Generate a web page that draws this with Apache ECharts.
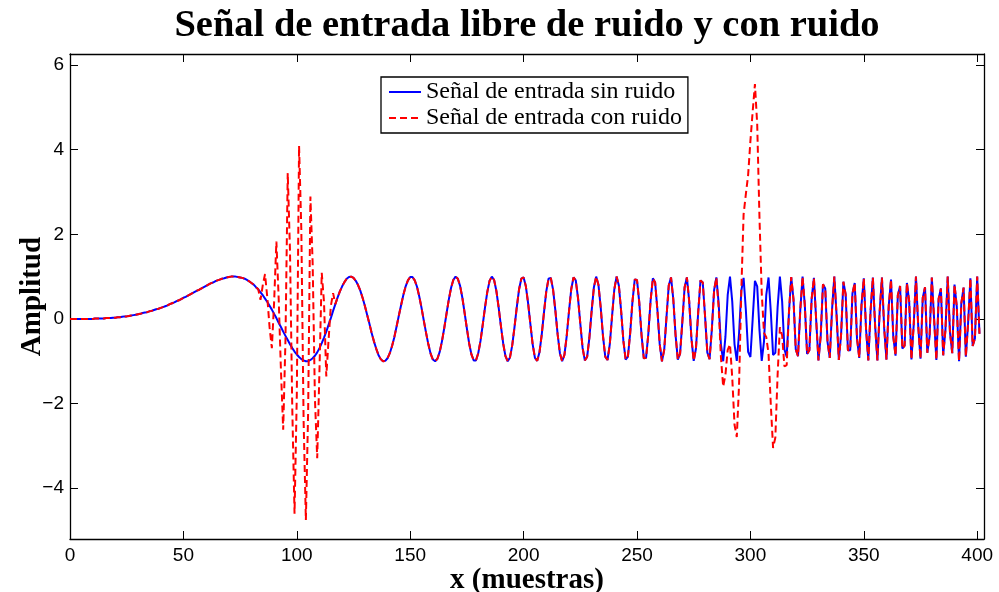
<!DOCTYPE html>
<html>
<head>
<meta charset="utf-8">
<script src="https://cdn.jsdelivr.net/npm/echarts@6/dist/echarts.min.js"></script>
<style>
  html, body { margin: 0; padding: 0; background: #ffffff; }
  #chart { width: 999px; height: 592px; }
</style>
</head>
<body>
<div id="chart"></div>
<script>
// Clean chirp input, one value per sample n = 0..401
const sinRuido = [
  0, 0, 0, 0, 0, 0, 0, 0, 0, 0,
  0, 0.01, 0.01, 0.01, 0.01, 0.01, 0.02, 0.02, 0.02, 0.03,
  0.03, 0.04, 0.04, 0.05, 0.06, 0.06, 0.07, 0.08, 0.09, 0.10,
  0.11, 0.12, 0.14, 0.15, 0.16, 0.18, 0.19, 0.21, 0.23, 0.24,
  0.26, 0.28, 0.30, 0.32, 0.35, 0.37, 0.39, 0.42, 0.44, 0.47,
  0.50, 0.52, 0.55, 0.58, 0.61, 0.64, 0.67, 0.69, 0.72, 0.75,
  0.78, 0.81, 0.84, 0.86, 0.89, 0.91, 0.93, 0.95, 0.96, 0.98,
  0.99, 1.00, 1.00, 1.00, 0.99, 0.98, 0.97, 0.95, 0.92, 0.89,
  0.85, 0.81, 0.75, 0.70, 0.63, 0.56, 0.48, 0.40, 0.31, 0.22,
  0.12, 0.02, -0.09, -0.19, -0.30, -0.40, -0.50, -0.60, -0.69, -0.77,
  -0.84, -0.90, -0.95, -0.98, -1.00, -1.00, -0.97, -0.93, -0.87, -0.79,
  -0.69, -0.57, -0.44, -0.30, -0.14, 0.02, 0.19, 0.35, 0.51, 0.65,
  0.77, 0.87, 0.95, 0.99, 1.00, 0.97, 0.90, 0.80, 0.67, 0.50,
  0.31, 0.10, -0.11, -0.33, -0.53, -0.70, -0.85, -0.95, -1.00, -0.99,
  -0.93, -0.81, -0.64, -0.43, -0.18, 0.08, 0.33, 0.57, 0.77, 0.91,
  0.99, 0.99, 0.91, 0.76, 0.53, 0.26, -0.04, -0.33, -0.60, -0.82,
  -0.96, -1.00, -0.94, -0.78, -0.53, -0.22, 0.12, 0.45, 0.73, 0.92,
  1.00, 0.95, 0.78, 0.50, 0.14, -0.23, -0.58, -0.84, -0.98, -0.98,
  -0.81, -0.52, -0.13, 0.28, 0.64, 0.90, 1.00, 0.92, 0.66, 0.27,
  -0.17, -0.58, -0.88, -1.00, -0.91, -0.62, -0.19, 0.28, 0.70, 0.95,
  0.98, 0.77, 0.37, -0.13, -0.60, -0.92, -0.99, -0.79, -0.37, 0.16,
  0.65, 0.95, 0.97, 0.69, 0.20, -0.36, -0.81, -1.00, -0.85, -0.41,
  0.17, 0.70, 0.98, 0.91, 0.49, -0.11, -0.68, -0.98, -0.90, -0.45,
  0.19, 0.75, 1.00, 0.81, 0.27, -0.40, -0.89, -0.97, -0.60, 0.06,
  0.70, 1.00, 0.79, 0.19, -0.52, -0.96, -0.89, -0.33, 0.41, 0.93,
  0.92, 0.39, -0.38, -0.93, -0.92, -0.35, 0.44, 0.96, 0.86, 0.21,
  -0.59, -1.00, -0.73, 0.04, 0.79, 0.98, 0.47, -0.38, -0.96, -0.82,
  -0.06, 0.75, 0.98, 0.43, -0.46, -0.99, -0.70, 0.17, 0.91, 0.86,
  0.07, -0.79, -0.95, -0.25, 0.68, 0.98, 0.37, -0.60, -1.00, -0.42,
  0.57, 1.00, 0.41, -0.60, -0.99, -0.35, 0.67, 0.97, 0.21, -0.78,
  -0.90, -0.01, 0.90, 0.77, -0.26, -0.99, -0.53, 0.57, 0.98, 0.17,
  -0.85, -0.80, 0.28, 1.00, 0.41, -0.72, -0.89, 0.15, 0.99, 0.46,
  -0.72, -0.88, 0.22, 1.00, 0.32, -0.83, -0.74, 0.47, 0.97, -0.02,
  -0.98, -0.40, 0.82, 0.72, -0.54, -0.92, 0.22, 1.00, 0.09, -0.97,
  -0.36, 0.88, 0.58, -0.74, -0.74, 0.60, 0.85, -0.46, -0.92, 0.34,
  0.96, -0.25, -0.98, 0.20, 0.98, -0.17, -0.98, 0.18, 0.98, -0.23,
  -0.96, 0.31, 0.93, -0.42, -0.87, 0.56, 0.78, -0.70, -0.63, 0.85,
  0.42, -0.96, -0.15, 1.00, -0.17, -0.94, 0.50, 0.75, -0.80, -0.42,
  0.98, -0.01, -0.97, 0.48, 0.72, -0.86, -0.26, 1.00, -0.32, -0.81,
  0.81, 0.29, -1.00, 0.37, 0.74, -0.89, -0.09, 0.96, -0.64, -0.46,
  1.00, -0.35
];

// Noisy input: equal to the clean one except in two bursts
const rafaga1Inicio = 84;
const rafaga1 = [
  0.45, 0.80, 1.06, 0.50, -0.20, -0.69, 0.40, 1.83, 0.50, -1.20,
  -2.62, -0.50, 3.45, 1.60, -2.10, -4.60, -1.80, 4.09, 2.10, -2.40,
  -4.75, -2.20, 2.89, 1.30, -1.90, -3.29, -1.20, 1.09, 0.40, -1.36,
  -0.50, 0.30, 0.61
];
const rafaga2Inicio = 286;
const rafaga2 = [
  0.27, -0.90, -1.60, -1.32, -0.73, -0.60, -1.39, -2.50, -2.79, -1.55,
  0.67, 2.47, 2.95, 3.40, 4.20, 4.90, 5.55, 4.60, 2.40, 0.61,
  -0.33, -0.43, -0.82, -2.03, -3.05, -2.80, -1.32, -0.20, -0.39, -1.12,
  -1.09
];

const ticksX = [0, 50, 100, 150, 200, 250, 300, 350, 400];
const ticksY = [-4, -2, 0, 2, 4, 6];

const nombreLimpia = 'Señal de entrada sin ruido';
const nombreRuido = 'Señal de entrada con ruido';

const conRuido = sinRuido.slice();
rafaga1.forEach((v, k) => { conRuido[rafaga1Inicio + k] = v; });
rafaga2.forEach((v, k) => { conRuido[rafaga2Inicio + k] = v; });

const puntosLimpia = sinRuido.map((v, n) => [n, v]);
const puntosRuido = conRuido.map((v, n) => [n, v]);

const negro = '#000000';
const ejeLinea = { show: true, onZero: false, lineStyle: { color: negro, width: 1.3 } };
const tickDentro = { show: true, inside: true, length: 8, lineStyle: { color: negro, width: 1 } };
const etiqueta = { fontFamily: 'Liberation Sans', fontSize: 19, color: negro };
const nombreEje = { fontFamily: 'Liberation Serif', fontWeight: 'bold', fontSize: 29, color: negro };
const menos = v => (v < 0 ? '\u2212' + Math.abs(v) : String(v));

const chart = echarts.init(document.getElementById('chart'), null, { renderer: 'canvas' });
chart.setOption({
  animation: false,
  backgroundColor: '#ffffff',
  title: {
    text: 'Señal de entrada libre de ruido y con ruido',
    left: 522,
    top: 2,
    textAlign: 'center',
    textStyle: { fontFamily: 'Liberation Serif', fontWeight: 'bold', fontSize: 38.5, color: negro }
  },
  legend: {
    orient: 'vertical',
    left: 381,
    top: 77,
    padding: [3, 6, 3, 7],
    itemGap: 2,
    itemWidth: 32,
    itemHeight: 14,
    borderColor: negro,
    borderWidth: 1.3,
    borderRadius: 0,
    backgroundColor: '#ffffff',
    itemStyle: { opacity: 0 },
    textStyle: { fontFamily: 'Liberation Serif', fontSize: 24, color: negro },
    data: [nombreLimpia, nombreRuido]
  },
  grid: { left: 70, right: 15, top: 54, bottom: 53, containLabel: false, outerBoundsMode: 'none' },
  xAxis: [
    {
      type: 'value', min: 0, max: 403, position: 'bottom',
      axisLine: ejeLinea,
      axisTick: Object.assign({ customValues: ticksX }, tickDentro),
      axisLabel: Object.assign({ customValues: ticksX, margin: 7 }, etiqueta),
      splitLine: { show: false },
      name: 'x (muestras)', nameLocation: 'middle', nameGap: 27, nameMoveOverlap: false,
      nameTextStyle: nombreEje
    },
    {
      type: 'value', min: 0, max: 403, position: 'top',
      axisLine: ejeLinea,
      axisTick: Object.assign({ customValues: ticksX }, tickDentro),
      axisLabel: { show: false },
      splitLine: { show: false }
    }
  ],
  yAxis: [
    {
      type: 'value', min: -5.2, max: 6.26, position: 'left',
      axisLine: ejeLinea,
      axisTick: Object.assign({ customValues: ticksY }, tickDentro),
      axisLabel: Object.assign({ customValues: ticksY, margin: 6, formatter: menos }, etiqueta),
      splitLine: { show: false },
      name: 'Amplitud', nameLocation: 'middle', nameGap: 23, nameRotate: 90, nameMoveOverlap: false,
      nameTextStyle: nombreEje
    },
    {
      type: 'value', min: -5.2, max: 6.26, position: 'right',
      axisLine: ejeLinea,
      axisTick: Object.assign({ customValues: ticksY }, tickDentro),
      axisLabel: { show: false },
      splitLine: { show: false }
    }
  ],
  series: [
    {
      name: nombreLimpia, type: 'line', data: puntosLimpia,
      xAxisIndex: 0, yAxisIndex: 0,
      showSymbol: false, symbol: 'none', sampling: null, smooth: false,
      lineStyle: { color: '#0000ff', width: 2 },
      itemStyle: { color: '#0000ff' },
      z: 2
    },
    {
      name: nombreRuido, type: 'line', data: puntosRuido,
      xAxisIndex: 0, yAxisIndex: 0,
      showSymbol: false, symbol: 'none', sampling: null, smooth: false,
      lineStyle: { color: '#ff0000', width: 2, type: [7, 4] },
      itemStyle: { color: '#ff0000' },
      z: 3
    }
  ]
});
</script>
</body>
</html>
